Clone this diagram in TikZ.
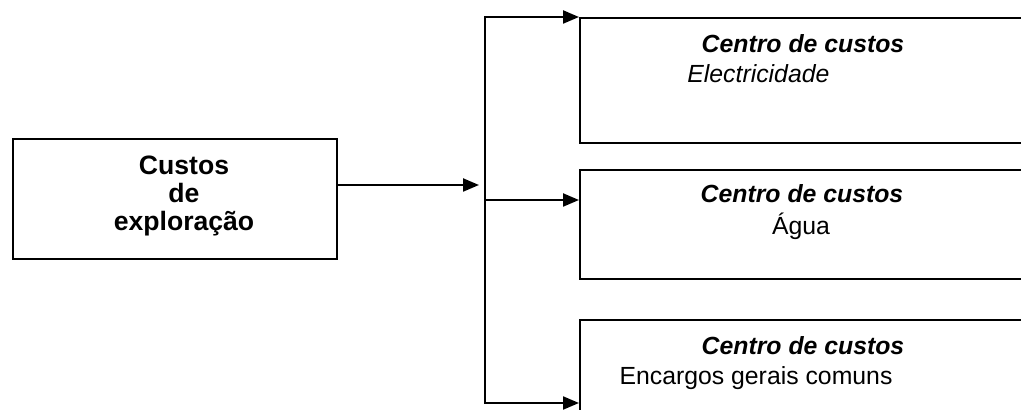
\documentclass[tikz,border=0pt]{standalone}
\usepackage{fontspec}
\setmainfont{Liberation Sans}
\usetikzlibrary{arrows.meta,positioning,calc}
\tikzset{
  box/.style={draw, line width=0.9pt, anchor=north west, inner sep=0pt},
  conn/.style={line width=1.1pt},
  arr/.style={conn, -{Triangle[length=8pt,width=6.5pt]}},
  txt/.style={inner sep=0pt, anchor=base}
}
\begin{document}
\begin{tikzpicture}[x=0.5pt, y=-0.5pt,
    every node/.style={font=\fontsize{12.4pt}{14pt}\selectfont}]
  \useasboundingbox (0,0) rectangle (1021,410);
  \clip (0,0) rectangle (1021,410);

  % boxes
  \node[box, minimum width=162pt, minimum height=60pt] (src) at (12,138) {};
  \node[box, minimum width=240pt, minimum height=62.5pt] (elec) at (579,17) {};
  \node[box, minimum width=240pt, minimum height=54.5pt] (agua) at (579,169) {};
  \node[box, minimum width=240pt, minimum height=60pt] (enc) at (579,319) {};

  % texts
  \node[txt, align=center, font=\fontsize{13.3pt}{14pt}\selectfont\bfseries] (srctxt) at (184,231) {Custos\\de\\exploração};
  \node[txt] (electitle) at (803,53) {\textbf{\textit{Centro de custos}}};
  \node[txt, anchor=base west] (elecname) at (687,83) {\textit{Electricidade}};
  \node[txt] (aguatitle) at (802,203) {\textbf{\textit{Centro de custos}}};
  \node[txt] (aguaname) at (801,235) {Água};
  \node[txt] (enctitle) at (803,355) {\textbf{\textit{Centro de custos}}};
  \node[txt] (encname) at (756,385) {Encargos gerais comuns};

  % connectors
  \coordinate (hub) at (479,185);
  \coordinate (top) at (485,17);
  \coordinate (mid) at (485,200);
  \coordinate (bot) at (485,403);
  \draw[arr] (src.east |- hub) -- (hub);
  \draw[arr] (bot) -- (top) -- (elec.north west);
  \draw[arr] (mid) -- (mid -| agua.west);
  \draw[arr] (top) -- (bot) -- (bot -| enc.west);
\end{tikzpicture}
\end{document}
